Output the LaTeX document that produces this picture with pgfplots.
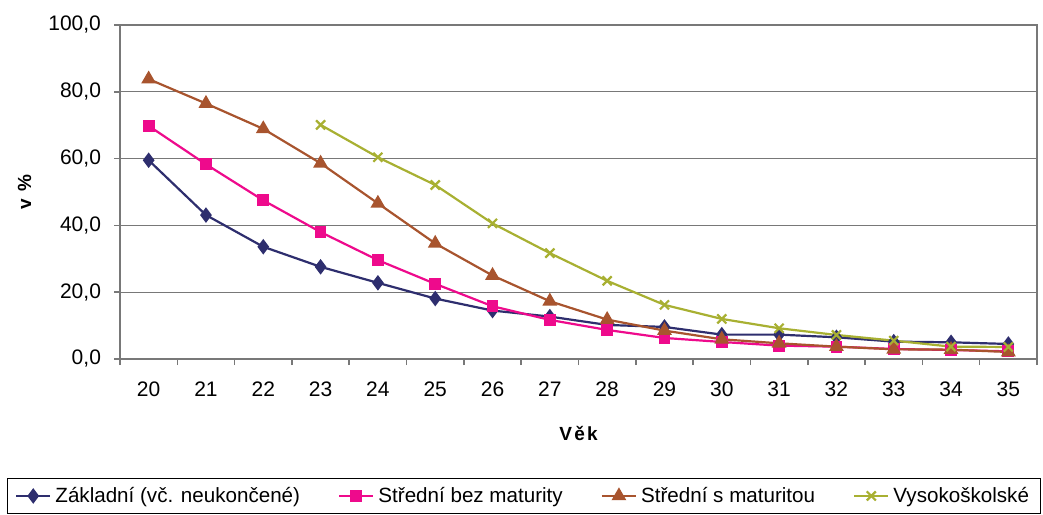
\documentclass[border=0pt]{standalone}
\usepackage{fontspec}
\setmainfont{Liberation Sans}
\newfontfamily\spaced[LetterSpace=12]{Liberation Sans}
\usepackage{pgfplots}
\pgfplotsset{compat=1.18}

\definecolor{cZak}{RGB}{46,46,110}
\definecolor{cBez}{RGB}{238,10,140}
\definecolor{cMat}{RGB}{168,84,46}
\definecolor{cVs}{RGB}{168,176,50}
\definecolor{cGrid}{RGB}{120,120,120}

\begin{document}
\begin{tikzpicture}
\useasboundingbox (-60pt,-77.5pt) rectangle (461.5pt,179.5pt);
\begin{axis}[
    scale only axis,
    width=458.5pt, height=167pt,
    xmin=19.5, xmax=35.5,
    ymin=0, ymax=100,
    xtick={19.5,20.5,...,35.5},
    x tick label as interval,
    xticklabels={20,21,22,23,24,25,26,27,28,29,30,31,32,33,34,35},
    ytick={0,20,40,60,80,100},
    xtick pos=bottom, ytick pos=left,
    tick align=outside,
    major tick length=3pt,
    ymajorgrids,
    grid style={cGrid, line width=0.6pt},
    axis line style={cGrid, line width=0.8pt},
    tick style={cGrid, line width=0.8pt},
    /pgf/number format/.cd, fixed, fixed zerofill, precision=1, use comma, assume math mode=true,
    /pgfplots/.cd,
    tick label style={font=\fontsize{10.5}{12}\selectfont},
    xticklabel style={yshift=-5pt},
    yticklabel style={xshift=-3pt},
    ylabel={\spaced\bfseries v \%},
    xlabel={\spaced\bfseries Věk},
    label style={font=\fontsize{9.5}{11}\selectfont},
    ylabel style={at={(axis description cs:-0.104,0.5)}, anchor=center},
    xlabel style={at={(axis description cs:0.5,-0.222)}, anchor=center},
    legend columns=4,
    legend style={at={(axis description cs:0.4406,-0.410)}, anchor=center,
        draw=black, line width=0.5pt, font=\fontsize{10.3}{12}\selectfont,
        /tikz/every even column/.append style={column sep=17pt},
        inner xsep=4pt, inner ysep=2pt},
    legend cell align=left,
    every axis plot/.append style={line width=1.1pt},
]
\addplot[cZak, mark=diamond*, mark size=3pt, mark options={fill=cZak}] coordinates {
 (20,59.5) (21,43.1) (22,33.6) (23,27.6) (24,22.8) (25,18.1) (26,14.5) (27,12.7)
 (28,10.2) (29,9.6) (30,7.3) (31,7.3) (32,6.5) (33,5.2) (34,5.0) (35,4.5)
};
\addlegendentry{Základní (vč. neukončené)}
\addplot[cBez, mark=square*, mark size=2.4pt, mark options={fill=cBez}] coordinates {
 (20,69.8) (21,58.3) (22,47.5) (23,38.0) (24,29.6) (25,22.5) (26,15.8) (27,11.7)
 (28,8.7) (29,6.3) (30,5.1) (31,4.0) (32,3.7) (33,3.0) (34,2.7) (35,2.3)
};
\addlegendentry{Střední bez maturity}
\addplot[cMat, mark=triangle*, mark size=3.2pt, mark options={fill=cMat}] coordinates {
 (20,83.8) (21,76.5) (22,68.9) (23,58.6) (24,46.6) (25,34.6) (26,25.0) (27,17.3)
 (28,11.8) (29,8.5) (30,5.9) (31,4.7) (32,3.7) (33,2.9) (34,2.8) (35,2.1)
};
\addlegendentry{Střední s maturitou}
\addplot[cVs, mark=x, mark size=3.2pt] coordinates {
 (23,70.1) (24,60.4) (25,52.1) (26,40.6) (27,31.7) (28,23.4) (29,16.2) (30,12.0)
 (31,9.2) (32,7.2) (33,5.5) (34,3.7) (35,3.6)
};
\addlegendentry{Vysokoškolské}
\end{axis}
\end{tikzpicture}
\end{document}
